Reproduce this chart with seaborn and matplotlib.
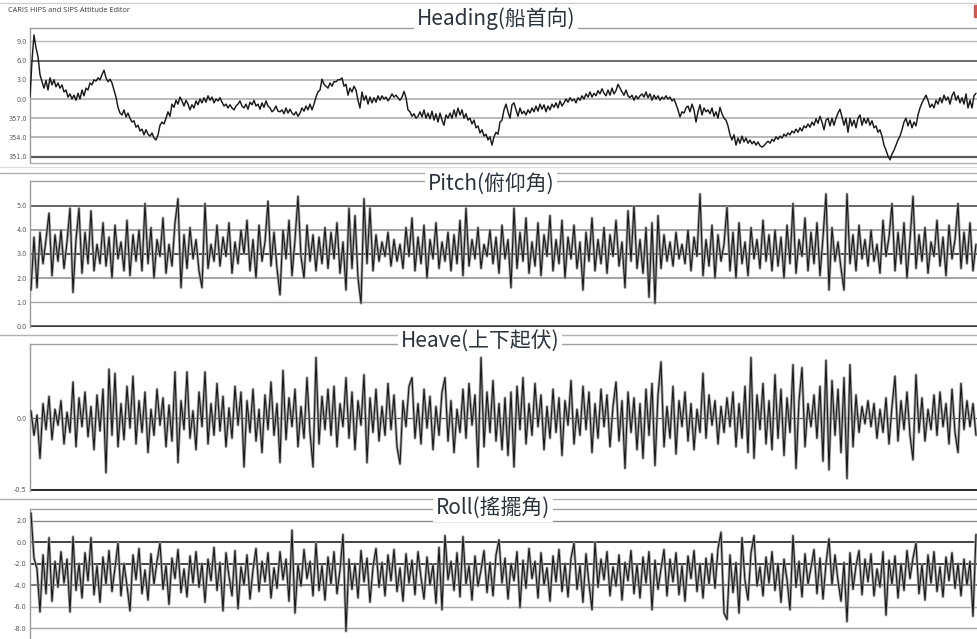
import numpy as np
import pandas as pd
import matplotlib
matplotlib.use("Agg")
import matplotlib.pyplot as plt
import seaborn as sns
from matplotlib.lines import Line2D
from matplotlib.patches import Rectangle

# ---------------- data ----------------
app_title = "CARIS HIPS and SIPS Attitude Editor"
panel_titles = ["Heading(船首向)", "Pitch(俯仰角)", "Heave(上下起伏)", "Roll(搖擺角)"]

# heading, degrees relative to north (negative = 360 - x)
heading = [
    0.3, 6.0, 10.0, 8.0, 6.6, 3.8, 2.7, 1.7, 2.9, 1.4, 3.3, 2.2, 3.0, 1.9, 2.5,
    1.7, 2.2, 1.1, 1.4, 0.3, 0.8, 0.0, 0.6, -0.2, 0.9, 0.0, 1.4, 0.5, 1.7, 1.4,
    2.5, 2.2, 3.0, 2.8, 3.3, 3.0, 3.8, 4.5, 3.3, 2.7, 3.1, 2.5, 1.4, 0.3, -1.3,
    -2.2, -2.5, -1.7, -2.8, -2.2, -3.0, -3.6, -3.4, -4.4, -4.1, -5.0, -4.7, -5.6, -4.8, -5.5,
    -5.8, -5.3, -6.1, -6.4, -5.6, -4.1, -3.6, -3.9, -3.0, -2.0, -2.7, -0.8, -1.3, -0.2, -0.8,
    0.3, -0.3, -1.1, -0.2, -0.8, -1.7, -0.9, -1.4, -0.3, -0.9, 0.0, -0.6, 0.2, -0.5, 0.5,
    -0.2, 0.3, -0.6, 0.0, -0.3, 0.2, -0.5, -1.1, -0.8, -1.4, -0.9, -1.4, -1.7, -1.1, -0.8,
    -0.3, -1.1, -1.4, -0.8, -1.6, -0.5, -0.9, -0.2, -1.1, -0.8, -1.6, -0.6, -1.3, -0.3, -1.1,
    -1.4, -2.0, -1.7, -1.1, -1.9, -2.0, -1.7, -2.3, -1.4, -2.2, -1.6, -2.2, -2.5, -2.0, -2.7,
    -2.2, -1.4, -1.9, -1.1, -1.7, -0.8, -1.7, -0.8, 0.3, 1.1, 1.4, 3.1, 2.3, 2.0, 1.7,
    2.5, 2.0, 2.7, 2.7, 3.0, 3.0, 3.3, 2.0, 2.3, 0.6, 1.7, 1.1, 2.0, 1.4, -0.2,
    -1.4, 1.1, -0.2, 0.5, -0.8, 0.3, -0.6, 0.2, -0.5, 0.5, -0.2, 0.5, 0.0, 0.3, -0.3,
    0.2, 0.8, 0.3, 0.6, 0.2, -0.2, 0.3, 1.2, 0.2, -1.7, -2.0, -2.7, -2.3, -3.0, -2.7,
    -2.0, -2.8, -1.7, -3.0, -2.2, -3.1, -1.9, -3.3, -2.3, -3.6, -2.2, -3.3, -4.1, -2.5, -3.0,
    -2.2, -3.0, -1.7, -2.8, -1.4, -2.5, -1.7, -3.0, -2.3, -3.3, -3.0, -3.9, -3.3, -4.5, -4.2,
    -5.3, -4.8, -5.8, -5.5, -6.4, -5.9, -7.2, -5.9, -5.2, -5.5, -3.6, -3.3, -1.7, -0.8, -2.0,
    -3.0, -0.9, -0.6, -1.7, -2.7, -1.4, -2.3, -1.9, -2.5, -1.7, -2.2, -1.4, -2.0, -1.1, -1.9,
    -0.8, -1.6, -0.9, -2.0, -1.1, -1.7, -0.8, -1.3, -0.6, -1.4, -0.3, -1.1, -0.6, 0.0, -0.5,
    0.2, -0.3, 0.0, -0.6, 0.2, -0.2, 0.5, 0.0, 0.8, 0.3, 1.1, 0.3, 0.9, 0.5, 1.3,
    0.8, 1.6, 0.9, 0.5, 1.4, 0.6, 1.7, 0.8, 1.3, 2.3, 1.7, 1.1, 0.6, 1.4, 0.5,
    0.2, 0.6, -0.2, 0.5, 0.0, 0.5, 0.8, 0.3, 1.1, 0.2, 0.8, -0.2, 0.6, 0.0, 0.5,
    -0.2, 0.3, 0.0, 0.5, 0.0, 0.3, -0.3, 0.0, -0.8, -1.7, -2.8, -2.0, -2.2, -1.4, -1.1,
    -2.0, -0.8, -1.7, -3.6, -2.0, -0.9, -2.5, -1.4, -2.0, -1.7, -2.3, -1.4, -2.7, -2.0, -3.0,
    -1.3, -2.3, -3.0, -3.3, -4.2, -5.6, -6.4, -5.6, -7.2, -6.1, -6.9, -5.8, -6.7, -6.1, -6.9,
    -6.4, -7.0, -6.6, -7.2, -6.7, -7.3, -7.5, -7.3, -6.9, -6.6, -6.9, -6.3, -6.6, -5.9, -6.3,
    -5.8, -6.1, -5.5, -5.8, -5.3, -5.6, -5.0, -5.3, -4.7, -5.2, -4.5, -5.0, -4.2, -4.5, -3.9,
    -4.4, -3.6, -4.1, -3.1, -3.8, -2.7, -3.6, -4.8, -3.3, -3.0, -4.2, -3.0, -4.1, -3.0, -2.2,
    -1.6, -2.8, -4.1, -3.0, -5.2, -3.0, -4.2, -3.3, -4.5, -3.0, -2.5, -4.1, -3.0, -3.8, -3.0,
    -4.1, -3.4, -4.5, -4.2, -5.2, -4.8, -5.8, -7.2, -8.0, -8.9, -9.5, -8.6, -8.0, -7.2, -6.4,
    -5.8, -4.8, -3.6, -3.0, -4.2, -3.3, -4.5, -3.6, -4.2, -2.5, -1.4, -0.6, 0.0, 0.6, -0.2,
    -1.3, -0.8, -1.4, -0.2, -0.8, 0.2, -0.6, 0.6, -0.2, 0.3, -0.8, 0.5, 1.1, -0.2, 0.5,
    -0.6, 0.2, -0.8, 0.8, -1.4, -0.2, -1.4, 0.5, 0.9,
]

pitch = [
    1.5, 3.7, 1.6, 3.9, 2.6, 3.6, 4.7, 2.1, 3.8, 2.7,
    4.0, 2.4, 3.5, 4.9, 1.4, 3.6, 4.9, 2.2, 3.9, 2.6,
    4.8, 2.3, 3.4, 2.6, 4.3, 2.5, 3.7, 2.0, 4.2, 2.8,
    3.5, 2.3, 4.4, 2.1, 3.8, 2.7, 4.0, 2.3, 5.1, 2.6,
    4.1, 2.0, 3.6, 2.9, 4.5, 2.2, 3.4, 2.5, 4.3, 5.3,
    1.6, 3.8, 2.4, 4.1, 2.8, 3.6, 2.3, 1.6, 5.1, 2.4,
    3.4, 2.7, 4.2, 2.5, 3.7, 2.9, 4.3, 2.2, 3.5, 2.6,
    4.0, 3.0, 4.4, 2.3, 3.6, 2.0, 4.2, 2.7, 3.5, 5.2,
    2.5, 3.9, 2.4, 1.3, 4.0, 2.8, 4.4, 2.1, 3.6, 5.4,
    2.9, 2.0, 4.2, 2.7, 3.8, 2.3, 3.7, 2.6, 4.1, 2.4,
    3.9, 2.8, 4.3, 2.2, 3.5, 1.5, 4.9, 2.4, 4.6, 2.0,
    0.95, 5.3, 2.6, 4.9, 2.3, 3.8, 2.7, 3.5, 2.9, 3.9,
    2.5, 3.6, 2.7, 3.4, 2.4, 4.1, 2.9, 4.5, 2.3, 3.7,
    2.6, 4.2, 2.0, 3.6, 2.8, 4.3, 2.4, 3.5, 2.7, 3.9,
    2.3, 3.8, 2.6, 4.4, 2.1, 4.9, 2.5, 3.6, 2.8, 4.1,
    2.4, 3.4, 2.9, 4.0, 2.6, 3.7, 2.2, 4.2, 2.8, 3.6,
    1.6, 4.9, 2.4, 3.9, 2.7, 4.5, 2.2, 3.5, 2.5, 4.3,
    2.1, 3.8, 2.9, 4.6, 2.3, 3.6, 2.6, 4.4, 2.0, 3.7,
    2.8, 4.2, 2.4, 3.5, 1.5, 3.9, 2.7, 4.5, 2.3, 3.6,
    2.6, 4.1, 2.2, 3.8, 2.9, 4.4, 2.5, 3.5, 1.6, 4.8,
    2.7, 5.0, 2.4, 3.6, 2.2, 4.1, 1.2, 4.3, 0.95, 4.6,
    2.4, 3.8, 2.7, 3.5, 2.5, 3.9, 2.8, 3.4, 2.6, 4.0,
    2.3, 3.7, 2.9, 5.5, 2.1, 3.6, 2.5, 4.2, 2.0, 3.8,
    2.7, 3.4, 4.95, 2.3, 3.9, 2.0, 4.3, 2.6, 3.5, 2.1,
    4.1, 2.8, 3.6, 2.4, 4.4, 2.7, 3.8, 2.3, 4.0, 2.5,
    3.7, 2.0, 4.2, 2.6, 5.1, 2.2, 3.6, 2.9, 4.5, 2.3,
    3.9, 2.6, 4.3, 2.1, 3.7, 5.5, 1.5, 4.1, 2.7, 3.5,
    2.4, 1.5, 5.5, 2.6, 3.8, 2.3, 4.2, 2.8, 3.6, 2.5,
    4.0, 2.7, 3.4, 2.2, 4.4, 2.9, 3.7, 5.1, 2.3, 3.9,
    2.6, 4.3, 2.0, 3.6, 5.4, 2.4, 3.8, 2.7, 4.1, 2.2,
    3.5, 2.9, 4.4, 2.5, 3.7, 2.1, 4.2, 2.8, 3.6, 5.1,
    2.4, 3.9, 2.6, 4.3, 2.3, 3.4,
]

heave = [
    0.05, -0.12, 0.02, -0.28, 0.10, -0.08, 0.15, -0.15, 0.06, -0.05,
    0.12, -0.18, 0.04, -0.10, 0.25, -0.20, 0.14, -0.06, 0.18, -0.13,
    0.08, -0.22, 0.16, -0.09, 0.20, -0.38, 0.34, -0.12, 0.31, -0.20,
    0.10, -0.15, 0.22, -0.07, 0.29, -0.18, 0.12, -0.10, 0.18, -0.24,
    0.06, -0.12, 0.20, -0.05, 0.14, -0.20, 0.09, -0.16, 0.32, -0.31,
    0.12, -0.08, 0.32, -0.14, 0.05, -0.22, 0.18, -0.06, 0.32, -0.18,
    0.10, -0.12, 0.24, -0.09, 0.15, -0.20, 0.07, -0.14, 0.22, -0.05,
    0.18, -0.34, 0.12, -0.10, 0.20, -0.16, 0.06, -0.24, 0.16, -0.08,
    0.25, -0.12, 0.10, -0.31, 0.33, -0.15, 0.14, -0.06, 0.20, -0.20,
    0.08, -0.14, 0.28, -0.10, -0.34, 0.42, -0.18, 0.15, -0.08, 0.20,
    -0.12, 0.22, -0.20, 0.10, -0.06, 0.28, -0.14, 0.18, -0.22, 0.12,
    -0.05, 0.30, -0.31, 0.14, -0.10, 0.20, -0.16, 0.08, -0.12, 0.24,
    -0.08, 0.16, -0.20, -0.32, 0.12, -0.06, 0.22, 0.28, -0.14, 0.10,
    -0.18, 0.20, -0.07, 0.15, -0.22, 0.08, -0.12, 0.18, 0.28, -0.16,
    0.12, -0.24, 0.06, -0.10, 0.20, -0.14, 0.24, -0.05, 0.16, -0.34,
    0.42, -0.20, 0.18, -0.10, 0.26, -0.16, 0.10, -0.22, 0.14, -0.26,
    0.18, -0.34, 0.22, -0.08, 0.28, -0.18, 0.10, -0.12, 0.24, -0.06,
    0.16, -0.22, 0.08, -0.14, 0.20, -0.10, 0.14, -0.26, 0.12, -0.05,
    0.26, -0.18, 0.06, -0.12, 0.22, -0.08, 0.18, -0.24, 0.10, -0.14,
    0.20, -0.06, 0.16, -0.20, 0.08, 0.25, -0.16, 0.12, -0.35, 0.18,
    -0.10, 0.14, -0.22, 0.10, -0.28, 0.20, -0.12, 0.24, -0.33, 0.16,
    0.39, -0.20, 0.08, -0.14, 0.22, -0.25, 0.12, -0.06, 0.18, -0.16,
    0.10, -0.22, 0.06, -0.10, 0.31, -0.14, 0.16, -0.05, 0.12, -0.18,
    0.08, -0.10, 0.14, -0.06, 0.18, -0.20, 0.10, -0.14, 0.22, -0.24,
    0.42, -0.28, 0.16, -0.08, 0.24, -0.18, 0.12, -0.22, 0.30, -0.14,
    0.20, -0.26, 0.14, -0.10, 0.37, -0.35, 0.12, 0.35, -0.20, 0.10,
    -0.06, 0.16, -0.14, 0.22, -0.30, 0.40, -0.36, 0.26, -0.12, 0.20,
    -0.24, 0.28, -0.42, 0.37, -0.20, 0.16, -0.10, 0.08, -0.04, 0.12,
    -0.06, 0.10, -0.14, 0.06, -0.10, 0.14, -0.18, 0.08, 0.29, -0.16,
    0.12, -0.08, 0.18, -0.12, -0.29, 0.30, -0.10, 0.14, -0.16, 0.06,
    -0.08, 0.16, -0.12, 0.18, -0.06, 0.10, -0.18, 0.20, -0.10, -0.24,
    0.24, -0.08, 0.12, -0.06, 0.10, -0.12,
]

roll = [
    2.7, -1.5, -2.5, -6.5, -1.2, -4.8, 0.4, -5.5, -1.8, -4.2,
    -0.9, -3.8, -1.6, -6.5, 0.5, -4.5, -2.0, -5.2, -1.0, -3.6,
    0.4, -4.9, -2.2, -5.6, -1.4, -3.9, -0.8, -4.6, -2.4, -0.1,
    -5.0, -2.0, -4.1, -6.4, -1.2, -3.5, -0.6, -4.8, -2.6, -5.4,
    -1.1, -3.9, -1.8, -0.1, -4.4, -2.2, -5.8, -1.5, -3.4, -0.7,
    -4.7, -2.5, -5.1, -1.3, -3.8, -0.9, -4.2, -2.0, -5.6, -1.6,
    -3.6, -0.5, -4.5, -1.9, -6.4, -1.0, -3.2, -5.0, -0.8, -6.2,
    -2.3, -4.0, -1.2, -5.3, -2.6, -0.6, -4.6, -1.8, -3.7, -1.0,
    -5.2, -2.4, -4.3, -0.9, -3.5, -1.6, -5.5, 1.1, -6.6, -2.1,
    -4.1, -0.7, -3.4, -1.8, -5.0, -0.1, -4.5, -2.2, -5.4, -1.4,
    -3.9, -0.9, -4.8, -2.6, 0.7, -8.3, -1.6, -4.4, -2.0, -5.2,
    -0.8, -3.7, -1.5, -5.6, -2.3, -0.6, -4.2, -1.9, -5.0, -1.2,
    -3.6, -0.7, -4.6, -2.4, -5.5, -1.1, -3.8, -1.7, -4.9, -0.9,
    -3.3, -5.3, -1.4, -4.0, -2.1, -5.7, -0.5, -6.3, 0.6, -3.5,
    -1.8, -4.5, -1.0, -5.1, 0.5, -3.9, -2.2, -5.4, -1.3, -4.1,
    -2.6, -0.8, -4.7, -1.9, -5.0, -1.2, 0.2, -3.8, -1.5, -5.3,
    -2.0, -3.6, -0.9, -6.1, -1.7, -4.3, -0.6, -3.4, -1.8, -5.2,
    -1.0, -4.0, -2.4, -5.5, -1.3, -3.7, -0.7, -4.6, -2.0, -5.1,
    -1.5, -0.1, -4.4, -2.2, -5.6, -1.1, -3.9, -6.3, 0.0, -4.2,
    -1.6, -3.5, -0.9, -5.0, -2.3, -4.1, -1.2, -5.4, -1.9, -3.6,
    -0.8, -4.8, -2.1, -5.2, -1.4, -3.8, -0.9, -6.3, -1.7, -4.4,
    -2.5, -0.7, -5.0, -1.6, -3.7, -1.0, -4.9, -2.2, -5.5, -1.3,
    -3.4, -0.8, -4.6, -2.0, -5.2, -1.5, -3.9, -1.1, -4.3, -0.6,
    0.9, -6.6, -7.2, -1.2, -4.7, -1.9, -6.6, 0.4, -3.6, -5.4,
    -1.0, 0.6, -4.1, -2.3, -5.0, -1.4, -3.8, -0.9, -4.5, -2.0,
    -5.6, -1.6, -3.5, -6.3, 0.6, -4.2, -1.8, -5.1, -1.1, -3.9,
    -2.4, -0.7, -4.8, -1.5, -5.3, -2.0, 0.3, -4.0, -1.2, -3.6,
    -5.5, -1.9, -7.4, -1.0, -4.4, -2.2, -0.8, -4.9, -1.6, -3.7,
    -1.1, -5.0, -2.5, -4.2, -0.9, -6.8, -1.7, -3.9, -1.3, -5.2,
    -2.0, -4.5, -0.8, -3.4, -1.5, -0.1, -4.8, -2.1, -5.4, -1.2,
    -3.8, -0.9, -4.6, -2.3, -5.1, -1.4, -3.6, -1.0, -4.3, -2.0,
    -5.0, -1.6, -4.0, -1.8, -6.9, 0.7,
]

heading_ticks = [9, 6, 3, 0, -3, -6, -9]
heading_labels = ["9.0", "6.0", "3.0", "0.0", "357.0", "354.0", "351.0"]
pitch_ticks = [5, 4, 3, 2, 1, 0]
pitch_labels = ["5.0", "4.0", "3.0", "2.0", "1.0", "0.0"]
heave_ticks = [0.0, -0.5]
heave_labels = ["0.0", "-0.5"]
roll_ticks = [2, 0, -2, -4, -6, -8]
roll_labels = ["2.0", "0.0", "-2.0", "-4.0", "-6.0", "-8.0"]

# ---------------- figure ----------------
W, H = 977, 639
sns.set_style("white")
plt.rcParams["font.family"] = ["Noto Sans CJK TC", "DejaVu Sans"]
fig = plt.figure(figsize=(W / 100, H / 100), dpi=100)
fig.patch.set_facecolor("white")


def px_axes(x0, y0, x1, y1):
    return fig.add_axes([x0 / W, 1 - y1 / H, (x1 - x0) / W, (y1 - y0) / H])


def hline_px(y, x0=0, x1=W, color="#b4b4b4", lw=1.0):
    fig.add_artist(Line2D([x0 / W, x1 / W], [1 - y / H, 1 - y / H],
                          color=color, lw=lw, transform=fig.transFigure, zorder=1))


LINE = "#1a1a1a"
HALO = "#a4a4a4"

panels = [
    # (values, step, offset, px box, ylim, ticks, labels, grid lines, halo)
    (heading, 2.0, 0.0, (30, 28, W, 162), (-9.84, 11.09), heading_ticks, heading_labels,
     [(9, "#b8b8b8", 1.0), (6, "#6a6a6a", 1.4), (3, "#a6a6a6", 1.1), (0, "#a6a6a6", 1.1),
      (-3, "#a6a6a6", 1.1), (-6, "#a6a6a6", 1.1), (-9, "#5a5a5a", 1.6)], False),
    (pitch, 3.0, 1.0, (30, 181, W, 327), (-0.04, 6.04), pitch_ticks, pitch_labels,
     [(5, "#5a5a5a", 1.3), (4, "#8a8a8a", 1.1), (3, "#3a3a3a", 1.3), (2, "#8a8a8a", 1.1),
      (1, "#a8a8a8", 1.0), (0, "#3a3a3a", 1.8)], True),
    (heave, 3.0, 1.0, (30, 344, W, 491), (-0.507, 0.514), heave_ticks, heave_labels,
     [(0.0, "#555555", 0.9), (-0.5, "#2e2e2e", 2.2)], True),
    (roll, 3.0, 1.0, (30, 509, W, H), (-9.02, 3.07), roll_ticks, roll_labels,
     [(2, "#8a8a8a", 1.0), (0, "#222222", 1.2), (-2, "#222222", 1.2), (-4, "#555555", 1.1),
      (-6, "#a8a8a8", 1.0), (-8, "#a8a8a8", 1.0)], True),
]

for vals, step, off, box, ylim, ticks, labels, grid, halo in panels:
    ax = px_axes(*box)
    df = pd.DataFrame({"t": off + np.arange(len(vals)) * step, "v": vals})
    for gv, gc, glw in grid:
        ax.axhline(gv, color=gc, lw=glw, zorder=1)
    if halo:
        sns.lineplot(data=df, x="t", y="v", ax=ax, color=HALO, lw=2.0,
                     estimator=None, sort=False, legend=False, zorder=2)
        sns.lineplot(data=df, x="t", y="v", ax=ax, color=LINE, lw=0.8,
                     estimator=None, sort=False, legend=False, zorder=3)
    else:
        sns.lineplot(data=df, x="t", y="v", ax=ax, color=LINE, lw=1.05,
                     estimator=None, sort=False, legend=False, zorder=3)
    ax.set_xlim(0, W - 30)
    ax.set_ylim(*ylim)
    ax.set_xticks([])
    ax.set_yticks(ticks)
    ax.set_yticklabels(labels, family="DejaVu Sans")
    ax.tick_params(axis="y", length=0, pad=2.5, labelsize=4.7, labelcolor="#555555")
    ax.set_xlabel("")
    ax.set_ylabel("")
    ax.patch.set_alpha(0)
    for s in ["right", "bottom"]:
        ax.spines[s].set_visible(False)
    ax.spines["left"].set_color("#9a9a9a")
    ax.spines["left"].set_linewidth(1.0)
    ax.spines["top"].set_color("#a0a0a0")
    ax.spines["top"].set_linewidth(1.0)

# heading bottom frame line
hline_px(162.5, 30, W, "#b0b0b0", 1.0)
hline_px(167, 0, W, "#dcdcdc", 1.0)
# outer separator lines
hline_px(2.5, 0, W, "#cfcfcf", 1.0)
hline_px(173, 0, W, "#b0b0b0", 1.0)
hline_px(335, 0, W, "#b0b0b0", 1.0)
hline_px(499, 0, W, "#b0b0b0", 1.0)

# application caption
fig.text(8 / W, 1 - 11 / H, app_title, fontsize=5.3, color="#3a3a3a",
         family=["Open Sans", "DejaVu Sans"], va="center", ha="left")
fig.add_artist(Rectangle((974 / W, 1 - 17 / H), 3 / W, 12 / H,
                         transform=fig.transFigure, color="#d9534f", zorder=5))

# panel titles
title_pos = [(496, 19), (491, 184), (480, 341), (493, 508)]
for txt, (tx, ty) in zip(panel_titles, title_pos):
    fig.text(tx / W, 1 - ty / H, txt, fontsize=15, color="#2b333d",
             ha="center", va="center", zorder=10,
             bbox=dict(boxstyle="square,pad=0.12", fc="white", ec="none"))

fig.savefig("out.png", dpi=100, facecolor="white")
